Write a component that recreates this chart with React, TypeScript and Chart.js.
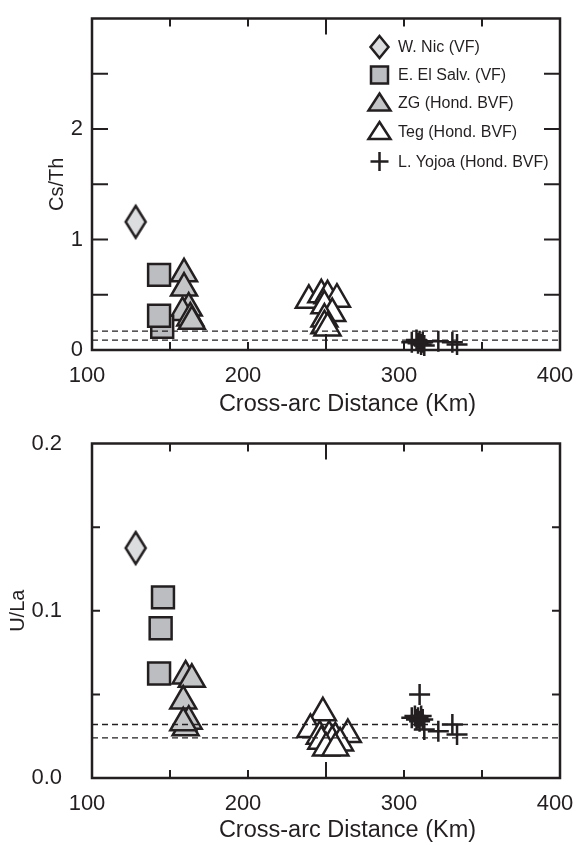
import React, { useEffect, useRef } from "react";
import { Chart, registerables } from "chart.js";

Chart.register(...registerables);

const FONT = "'Liberation Sans', Arial, Helvetica, sans-serif";
const INK = "#231f20";

// ---- shared x axis ----
const xMin = 100;
const xMax = 400;
const xTickLabels = [100, 200, 300, 400];
const xTickMarks = [150, 200, 250, 300, 350];
const xTitle = "Cross-arc Distance (Km)";
const seriesNames = [
  "W. Nic (VF)",
  "E. El Salv. (VF)",
  "ZG (Hond. BVF)",
  "Teg (Hond. BVF)",
  "L. Yojoa (Hond. BVF)",
];

// ---- Cs/Th panel ----
const csThTitle = "Cs/Th";
const csThMin = 0;
const csThMax = 3;
const csThTickLabels = [0, 1, 2];
const csThTickMarks = [0.5, 1, 1.5, 2, 2.5];
const csThRefLines = [0.17, 0.09];
const csThWNicX = [128];
const csThWNicY = [1.16];
const csThSalvX = [145, 143, 143];
const csThSalvY = [0.21, 0.68, 0.31];
const csThZGX = [159, 159, 162, 158, 163, 164];
const csThZGY = [0.69, 0.56, 0.38, 0.34, 0.29, 0.26];
const csThTegX = [239, 247, 251, 257, 249, 254, 249, 249, 251];
const csThTegY = [0.45, 0.5, 0.49, 0.46, 0.4, 0.33, 0.28, 0.22, 0.2];
const csThYojoaX = [305, 308, 309, 310, 311, 312, 313, 322, 331, 334];
const csThYojoaY = [0.07, 0.09, 0.06, 0.08, 0.05, 0.07, 0.04, 0.08, 0.07, 0.05];

// ---- U/La panel ----
const uLaTitle = "U/La";
const uLaMin = 0;
const uLaMax = 0.2;
const uLaTickLabels = [0, 0.1, 0.2];
const uLaTickMarks = [0.05, 0.1, 0.15];
const uLaRefLines = [0.032, 0.024];
const uLaWNicX = [128];
const uLaWNicY = [0.1375];
const uLaSalvX = [145.5, 144, 143];
const uLaSalvY = [0.108, 0.0895, 0.0625];
const uLaZGX = [160, 164, 158.5, 160, 162, 158.5];
const uLaZGY = [0.061, 0.059, 0.046, 0.03, 0.034, 0.033];
const uLaTegX = [248, 240, 264, 246, 252, 256, 247, 254, 259, 250, 256];
const uLaTegY = [0.039, 0.029, 0.026, 0.025, 0.025, 0.024, 0.022, 0.022, 0.021, 0.018, 0.018];
const uLaYojoaX = [310, 305, 307, 308, 309, 310, 311, 312, 313, 322, 331, 334];
const uLaYojoaY = [0.05, 0.036, 0.037, 0.035, 0.036, 0.034, 0.037, 0.035, 0.029, 0.028, 0.032, 0.026];

const DIAMOND_FILL = "#dcdddf";
const SQUARE_FILL = "#bcbdc0";
const ZG_FILL = "#c4c5c7";

const zip = (xs: number[], ys: number[]) => xs.map((x, i) => ({ x, y: ys[i] }));

function makeDiamond(): HTMLCanvasElement {
  const c = document.createElement("canvas");
  c.width = 26;
  c.height = 38;
  const g = c.getContext("2d")!;
  g.beginPath();
  g.moveTo(13, 3);
  g.lineTo(23, 19);
  g.lineTo(13, 35);
  g.lineTo(3, 19);
  g.closePath();
  g.fillStyle = DIAMOND_FILL;
  g.fill();
  g.lineWidth = 2.5;
  g.strokeStyle = INK;
  g.stroke();
  return c;
}

function framePlugin(yMarks: number[], yLen: number, titleGap: number) {
  return {
    id: "frame",
    afterDatasetsDraw(chart: any) {
      const { ctx, chartArea: a, scales } = chart;
      ctx.save();
      ctx.strokeStyle = INK;
      ctx.lineWidth = 2;
      ctx.beginPath();
      for (const v of xTickMarks) {
        const px = scales.x.getPixelForValue(v);
        const len = v === 250 ? 16 : 8;
        ctx.moveTo(px, a.bottom);
        ctx.lineTo(px, a.bottom - len);
        ctx.moveTo(px, a.top);
        ctx.lineTo(px, a.top + len);
      }
      for (const v of yMarks) {
        const py = scales.y.getPixelForValue(v);
        ctx.moveTo(a.left, py);
        ctx.lineTo(a.left + yLen, py);
        ctx.moveTo(a.right, py);
        ctx.lineTo(a.right - yLen, py);
      }
      ctx.stroke();
      ctx.lineWidth = 2.5;
      ctx.strokeRect(a.left, a.top, a.right - a.left, a.bottom - a.top);
      // x-axis title (centred slightly right of the plot centre, as in the source figure)
      ctx.fillStyle = INK;
      ctx.font = `23.5px ${FONT}`;
      ctx.textAlign = "center";
      ctx.textBaseline = "middle";
      ctx.fillText(xTitle, (a.left + a.right) / 2 + 21.5, a.bottom + titleGap);
      ctx.restore();
    },
  };
}

const legendPlugin = {
  id: "customLegend",
  afterDraw(chart: any) {
    const ctx = chart.ctx as CanvasRenderingContext2D;
    const rows = [47, 75, 103, 131.5, 161.5];
    const sx = 379.5;
    const tx = 398;
    ctx.save();
    ctx.lineWidth = 2.5;
    ctx.strokeStyle = INK;
    ctx.lineJoin = "miter";
    let y = rows[0];
    ctx.beginPath();
    ctx.moveTo(sx, y - 11);
    ctx.lineTo(sx + 9, y);
    ctx.lineTo(sx, y + 11);
    ctx.lineTo(sx - 9, y);
    ctx.closePath();
    ctx.fillStyle = DIAMOND_FILL;
    ctx.fill();
    ctx.stroke();
    y = rows[1];
    ctx.fillStyle = SQUARE_FILL;
    ctx.fillRect(sx - 8.5, y - 8.5, 17, 17);
    ctx.strokeRect(sx - 8.5, y - 8.5, 17, 17);
    y = rows[2];
    ctx.beginPath();
    ctx.moveTo(sx, y - 9.5);
    ctx.lineTo(sx + 11, y + 7.5);
    ctx.lineTo(sx - 11, y + 7.5);
    ctx.closePath();
    ctx.fillStyle = ZG_FILL;
    ctx.fill();
    ctx.stroke();
    y = rows[3];
    ctx.beginPath();
    ctx.moveTo(sx, y - 9.5);
    ctx.lineTo(sx + 11, y + 7.5);
    ctx.lineTo(sx - 11, y + 7.5);
    ctx.closePath();
    ctx.fillStyle = "#ffffff";
    ctx.fill();
    ctx.stroke();
    y = rows[4];
    ctx.beginPath();
    ctx.moveTo(sx - 9, y);
    ctx.lineTo(sx + 9, y);
    ctx.moveTo(sx, y - 9.5);
    ctx.lineTo(sx, y + 9.5);
    ctx.stroke();
    ctx.fillStyle = INK;
    ctx.font = `16px ${FONT}`;
    ctx.textBaseline = "middle";
    ctx.textAlign = "left";
    seriesNames.forEach((n, i) => ctx.fillText(n, tx, rows[i] + 1));
    ctx.restore();
  },
};

type PanelSpec = {
  title: string;
  min: number;
  max: number;
  tickLabels: number[];
  tickMarks: number[];
  yMarkLen: number;
  refLines: number[];
  wNic: [number[], number[]];
  salv: [number[], number[]];
  zg: [number[], number[]];
  teg: [number[], number[]];
  yojoa: [number[], number[]];
  padTop: number;
  xAxisH: number;
  xTitleGap: number;
  yTitlePad: number;
  yTickGap: number;
  fmt: (v: number) => string;
  legend: boolean;
};

function buildChart(canvas: HTMLCanvasElement, p: PanelSpec) {
  const diamond = makeDiamond();
  const base = { borderColor: INK, borderWidth: 2.5, clip: false as any };
  const datasets: any[] = [
    { ...base, label: seriesNames[0], data: zip(p.wNic[0], p.wNic[1]), pointStyle: diamond, pointRadius: 16, backgroundColor: DIAMOND_FILL },
    { ...base, label: seriesNames[1], data: zip(p.salv[0], p.salv[1]), pointStyle: "rect", pointRadius: 15.5, backgroundColor: SQUARE_FILL },
    { ...base, label: seriesNames[2], data: zip(p.zg[0], p.zg[1]), pointStyle: "triangle", pointRadius: 15, backgroundColor: ZG_FILL },
    { ...base, label: seriesNames[3], data: zip(p.teg[0], p.teg[1]), pointStyle: "triangle", pointRadius: 15, backgroundColor: "#ffffff" },
    { ...base, label: seriesNames[4], data: zip(p.yojoa[0], p.yojoa[1]), pointStyle: "cross", pointRadius: 10.5, backgroundColor: INK },
    ...p.refLines.map((v) => ({
      label: "ref",
      data: [
        { x: xMin, y: v },
        { x: xMax, y: v },
      ],
      showLine: true,
      borderColor: INK,
      borderWidth: 1.3,
      borderDash: [6, 4],
      pointRadius: 0,
      order: -1,
    })),
  ];
  return new Chart(canvas, {
    type: "scatter",
    data: { datasets },
    options: {
      animation: false,
      responsive: false,
      events: [],
      layout: { padding: { top: p.padTop, right: 22, left: 0, bottom: 0 } },
      plugins: { legend: { display: false }, tooltip: { enabled: false } },
      scales: {
        x: {
          type: "linear",
          position: "bottom",
          min: xMin,
          max: xMax,
          afterBuildTicks: (s: any) => {
            s.ticks = xTickLabels.map((v) => ({ value: v }));
          },
          afterFit: (s: any) => {
            s.height = p.xAxisH;
          },
          grid: { display: false, drawTicks: true, tickLength: 13 },
          border: { display: false },
          ticks: {
            padding: 0,
            labelOffset: -5,
            color: INK,
            font: { family: FONT, size: 22 },
            maxRotation: 0,
            autoSkip: false,
            callback: (v: any) => String(v),
          },
          title: { display: false },
        },
        y: {
          type: "linear",
          position: "left",
          min: p.min,
          max: p.max,
          afterBuildTicks: (s: any) => {
            s.ticks = p.tickLabels.map((v) => ({ value: v }));
          },
          afterFit: (s: any) => {
            s.width = 92;
          },
          grid: { display: false, drawTicks: true, tickLength: p.yTickGap },
          border: { display: false },
          ticks: {
            padding: 0,
            color: INK,
            font: { family: FONT, size: 22 },
            autoSkip: false,
            callback: (v: any) => p.fmt(Number(v)),
          },
          title: {
            display: true,
            text: p.title,
            color: INK,
            font: { family: FONT, size: 20 },
            padding: { top: p.yTitlePad, bottom: 0 },
          },
        },
      },
    } as any,
    plugins: [framePlugin(p.tickMarks, p.yMarkLen, p.xTitleGap), ...(p.legend ? [legendPlugin] : [])],
  });
}

export default function App() {
  const topRef = useRef<HTMLCanvasElement>(null);
  const botRef = useRef<HTMLCanvasElement>(null);

  useEffect(() => {
    const top = buildChart(topRef.current!, {
      title: csThTitle,
      min: csThMin,
      max: csThMax,
      tickLabels: csThTickLabels,
      tickMarks: csThTickMarks,
      yMarkLen: 16,
      refLines: csThRefLines,
      wNic: [csThWNicX, csThWNicY],
      salv: [csThSalvX, csThSalvY],
      zg: [csThZGX, csThZGY],
      teg: [csThTegX, csThTegY],
      yojoa: [csThYojoaX, csThYojoaY],
      padTop: 13,
      xAxisH: 75,
      xTitleGap: 55,
      yTitlePad: 45,
      yTickGap: 9,
      fmt: (v) => String(v),
      legend: true,
    });
    const bot = buildChart(botRef.current!, {
      title: uLaTitle,
      min: uLaMin,
      max: uLaMax,
      tickLabels: uLaTickLabels,
      tickMarks: uLaTickMarks,
      yMarkLen: 8,
      refLines: uLaRefLines,
      wNic: [uLaWNicX, uLaWNicY],
      salv: [uLaSalvX, uLaSalvY],
      zg: [uLaZGX, uLaZGY],
      teg: [uLaTegX, uLaTegY],
      yojoa: [uLaYojoaX, uLaYojoaY],
      padTop: 15,
      xAxisH: 67,
      xTitleGap: 53,
      yTitlePad: 6,
      yTickGap: 30,
      fmt: (v) => v.toFixed(1),
      legend: false,
    });
    return () => {
      top.destroy();
      bot.destroy();
    };
  }, []);

  return (
    <div style={{ position: "absolute", left: 0, top: 0, width: 582, height: 845, background: "#ffffff" }}>
      <canvas ref={topRef} width={582} height={425} style={{ position: "absolute", left: 0, top: 0, width: 582, height: 425 }} />
      <canvas ref={botRef} width={582} height={420} style={{ position: "absolute", left: 0, top: 425, width: 582, height: 420 }} />
    </div>
  );
}
